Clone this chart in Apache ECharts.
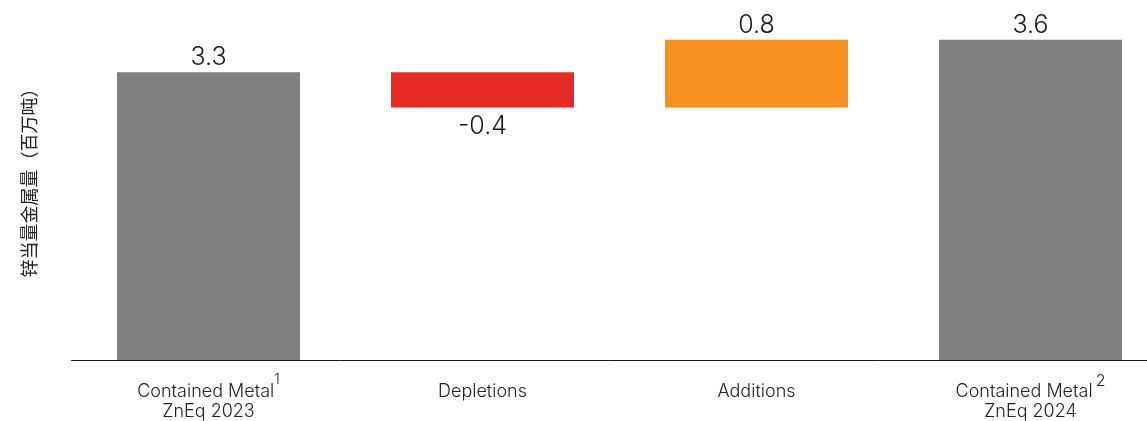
<!DOCTYPE html>
<html>
<head>
<meta charset="utf-8">
<script src="https://cdn.jsdelivr.net/npm/echarts@6/dist/echarts.min.js"></script>
<style>
  html, body { margin: 0; padding: 0; background: #fff; }
  #chart { width: 1147px; height: 421px; }
</style>
</head>
<body>
<div id="chart"></div>
<script>
// Zinc-equivalent contained metal bridge, 2023 -> 2024 (million tonnes)
const categories = [
  '{t|Contained Metal}{supA|1}\n{b|ZnEq 2023}',
  '{t|Depletions}',
  '{t|Additions}',
  '{t|Contained Metal}{supB|2}\n{b|ZnEq 2024}'
];
// opening total, change, change, closing total
const changes = [3.26, -0.40, 0.77, 3.63];
const isTotal = [true, false, false, true];
const barColors = ['#808080', '#E62B25', '#F7901F', '#808080'];
const yAxisTitle = '锌当量金属量（百万吨）';

// floating bases and visible heights for the waterfall
const bases = [];
const heights = [];
let running = 0;
changes.forEach(function (v, i) {
  if (isTotal[i]) {
    bases.push(0);
    heights.push(v);
    running = v;
  } else {
    const next = running + v;
    bases.push(Math.min(running, next));
    heights.push(Math.abs(v));
    running = next;
  }
});

const fontLatin = 'Inter, "Noto Sans", sans-serif';
const labelText = { fontFamily: fontLatin, fontWeight: 300, color: '#222' };

const chart = echarts.init(document.getElementById('chart'), null, { renderer: 'canvas' });
chart.setOption({
  animation: false,
  // plot area runs past the right edge so the last bar sits near the border
  grid: { left: 71.5, width: 1096, top: 7, bottom: 61, containLabel: false, outerBoundsMode: 'none' },
  xAxis: {
    type: 'category',
    data: categories,
    axisLine: { show: true, lineStyle: { color: '#1a1a1a', width: 1 } },
    axisTick: { show: false },
    axisLabel: {
      interval: 0,
      margin: 13,
      color: '#222',
      fontFamily: fontLatin,
      fontWeight: 300,
      fontSize: 18,
      align: 'center',
      rich: {
        // tall first line leaves room for the raised footnote markers
        t: Object.assign({ fontSize: 18, lineHeight: 38 }, labelText),
        b: Object.assign({ fontSize: 18, lineHeight: 2 }, labelText),
        supA: Object.assign({ fontSize: 14, lineHeight: 14, verticalAlign: 'top', padding: [0, 0, 24, 0] }, labelText),
        supB: Object.assign({ fontSize: 16, lineHeight: 16, verticalAlign: 'top', padding: [0, 0, 22, 3] }, labelText)
      }
    }
  },
  yAxis: {
    type: 'value',
    min: 0,
    max: 4,
    axisLine: { show: false },
    axisTick: { show: false },
    axisLabel: { show: false },
    splitLine: { show: false },
    name: yAxisTitle,
    nameLocation: 'middle',
    nameGap: 33,
    nameTextStyle: {
      fontFamily: '"Noto Sans CJK SC", "Noto Sans", sans-serif',
      fontSize: 18,
      color: '#222',
      padding: [0, 0, 0, 10]
    }
  },
  series: [
    {
      type: 'bar',
      stack: 'bridge',
      barWidth: 183,
      itemStyle: { color: 'transparent' },
      emphasis: { disabled: true },
      data: bases
    },
    {
      type: 'bar',
      stack: 'bridge',
      barWidth: 183,
      data: heights.map(function (h, i) {
        const neg = changes[i] < 0;
        return {
          value: h,
          itemStyle: { color: barColors[i] },
          label: {
            show: true,
            position: neg ? 'bottom' : 'top',
            distance: neg ? 6 : 2,
            formatter: function () { return changes[i].toFixed(1); },
            fontFamily: fontLatin,
            fontWeight: 300,
            fontSize: 25,
            color: '#1a1a1a'
          }
        };
      })
    }
  ]
});
</script>
</body>
</html>
